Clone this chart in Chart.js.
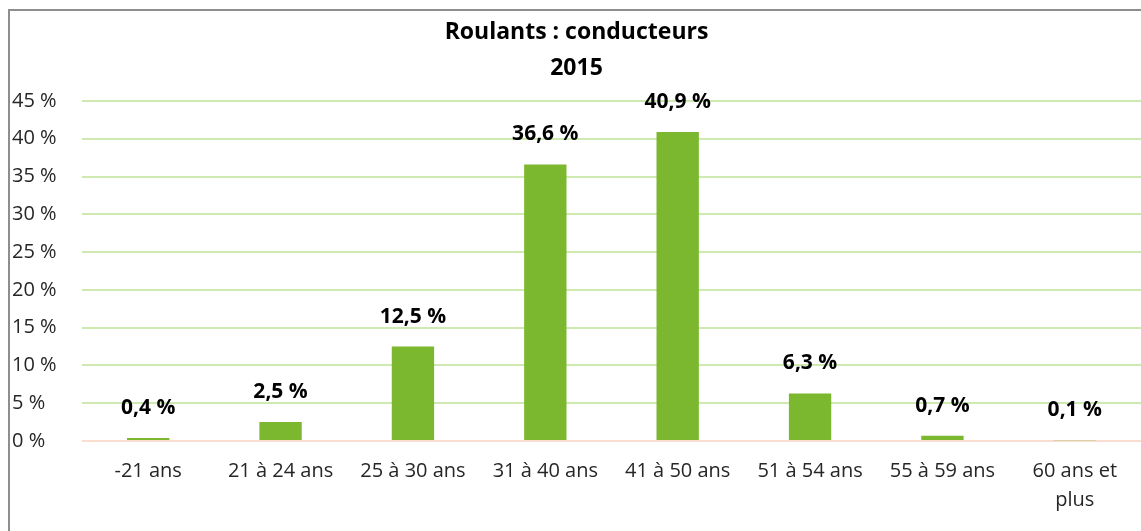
<!DOCTYPE html>
<html>
<head>
<meta charset="utf-8">
<script src="https://cdn.jsdelivr.net/npm/chart.js@4"></script>
<style>
  body { margin: 0; background: #fff; }
  #cadre { position: absolute; left: 8px; top: 9px; width: 1200px; height: 600px; border: 2px solid #8e8e8e; box-sizing: border-box; }
  #zone { position: absolute; left: 0; top: 0; width: 1141px; height: 531px; }
</style>
</head>
<body>
<div id="cadre"></div>
<div id="zone"><canvas id="graphique"></canvas></div>
<script>
const categories = ['-21 ans', '21 à 24 ans', '25 à 30 ans', '31 à 40 ans', '41 à 50 ans', '51 à 54 ans', '55 à 59 ans', ['60 ans et', 'plus']];
const valeurs = [0.4, 2.5, 12.5, 36.6, 40.9, 6.3, 0.7, 0.1];
const titre = ['Roulants : conducteurs', '2015'];
const yMax = 45;
const yPas = 5;

const vert = '#7cb82f';
const police = '"Open Sans", Lato, sans-serif';

function formatPct(v) {
    return v.toFixed(1).replace('.', ',') + ' %';
}

const etiquettes = {
    id: 'etiquettes',
    afterDatasetsDraw(chart) {
        const ctx = chart.ctx;
        const meta = chart.getDatasetMeta(0);
        ctx.save();
        ctx.font = 'bold 21px ' + police;
        ctx.fillStyle = '#000';
        ctx.textAlign = 'center';
        ctx.textBaseline = 'middle';
        meta.data.forEach(function(barre, i) {
            ctx.fillText(formatPct(valeurs[i]), barre.x, barre.y - 30);
        });
        ctx.restore();
    }
};

const ctx = document.getElementById('graphique').getContext('2d');
new Chart(ctx, {
    type: 'bar',
    data: {
        labels: categories,
        datasets: [{
            data: valeurs,
            backgroundColor: vert,
            barPercentage: 0.32,
            categoryPercentage: 1
        }]
    },
    options: {
        responsive: true,
        maintainAspectRatio: false,
        animation: false,
        layout: { padding: { left: 12, right: 0, top: 0, bottom: 0 } },
        plugins: {
            legend: { display: false },
            tooltip: { enabled: false },
            title: {
                display: true,
                text: titre,
                color: '#000',
                font: { family: police, size: 23, weight: 'bold', lineHeight: 1.565 },
                padding: { top: 14, bottom: 15 }
            }
        },
        scales: {
            x: {
                grid: { display: false, drawTicks: false },
                border: { display: false },
                ticks: {
                    color: '#262626',
                    padding: 16,
                    maxRotation: 0,
                    autoSkip: false,
                    font: { family: police, size: 20, lineHeight: 1.45 }
                }
            },
            y: {
                min: 0,
                max: yMax,
                grid: {
                    drawTicks: false,
                    lineWidth: 2,
                    color: function(c) { return c.tick && c.tick.value === 0 ? '#f9ddd0' : '#cfeab0'; }
                },
                border: { display: false },
                ticks: {
                    stepSize: yPas,
                    color: '#262626',
                    crossAlign: 'far',
                    padding: 8,
                    font: { family: police, size: 20 },
                    callback: function(v) { return v + ' %'; }
                },
                afterFit: function(scale) { scale.width = 70; }
            }
        }
    },
    plugins: [etiquettes]
});
</script>
</body>
</html>
